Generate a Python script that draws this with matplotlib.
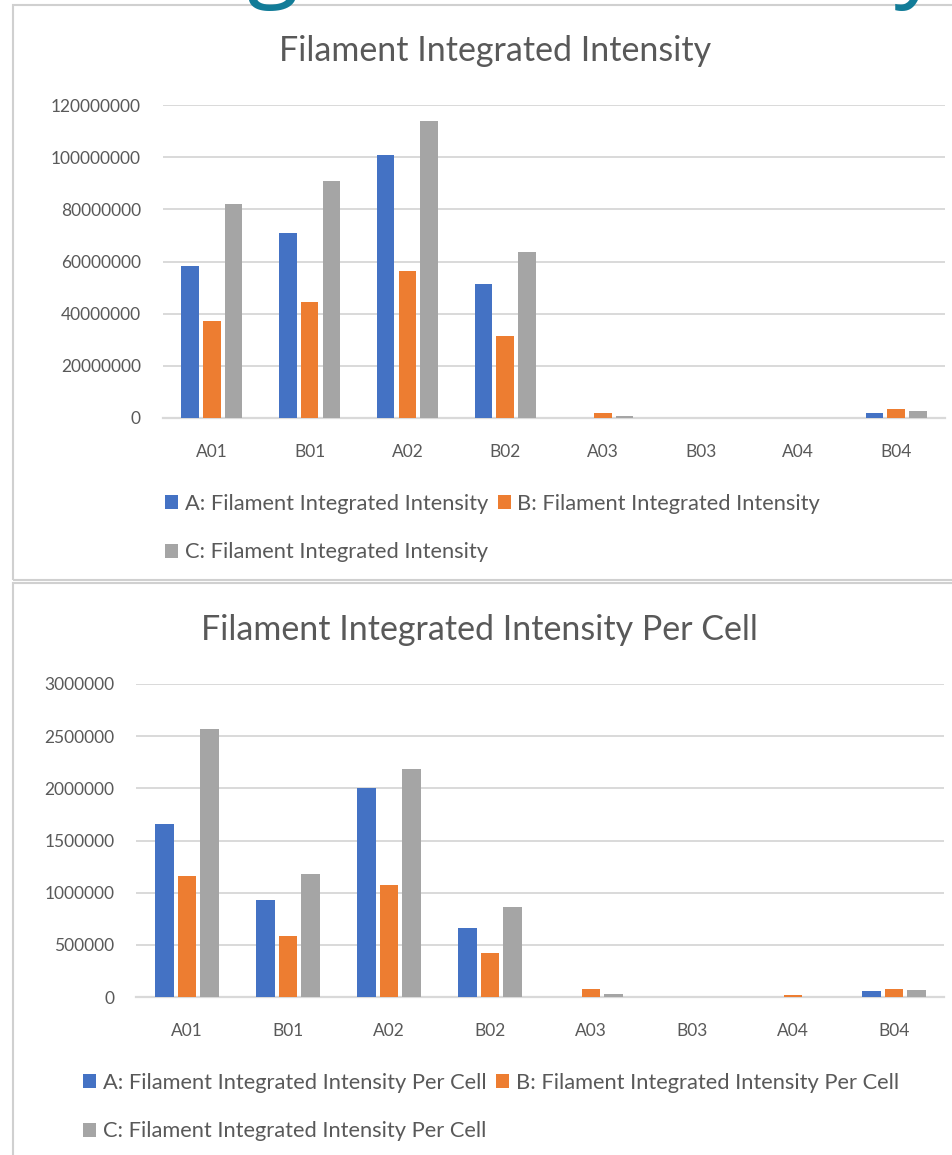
import matplotlib
matplotlib.use("Agg")
import matplotlib.pyplot as plt
from matplotlib.patches import Rectangle
from matplotlib.ticker import FuncFormatter, MultipleLocator
import numpy as np

plt.rcParams['font.family'] = ['Lato', 'DejaVu Sans']

wells = ["A01", "B01", "A02", "B02", "A03", "B03", "A04", "B04"]

# Filament integrated intensity per well
total_a = [58300000, 71000000, 100800000, 51300000, 0, 0, 0, 2100000]
total_b = [37100000, 44400000, 56200000, 31600000, 2100000, 0, 0, 3600000]
total_c = [82000000, 90800000, 113800000, 63500000, 700000, 0, 0, 2700000]

# Filament integrated intensity per cell
cell_a = [1661000, 926000, 2006000, 665000, 0, 0, 0, 55000]
cell_b = [1159000, 581000, 1073000, 421000, 77000, 0, 19000, 77000]
cell_c = [2571000, 1182000, 2188000, 862000, 29000, 0, 0, 67000]

total_labels = ["A: Filament Integrated Intensity",
                "B: Filament Integrated Intensity",
                "C: Filament Integrated Intensity"]
cell_labels = ["A: Filament Integrated Intensity Per Cell",
               "B: Filament Integrated Intensity Per Cell",
               "C: Filament Integrated Intensity Per Cell"]

colors = ["#4472C4", "#ED7D31", "#A5A5A5"]
text_color = "#595959"
grid_color = "#D9D9D9"

W, H = 953, 1155
fig = plt.figure(figsize=(W / 100, H / 100), dpi=100)
fig.patch.set_facecolor("white")


def fx(px):
    return px / W


def fy(py):
    return 1 - py / H


# chart frames
for top, bottom in [(5, 580), (583, 1162)]:
    fig.add_artist(Rectangle((fx(13), fy(bottom)), fx(960) - fx(13), fy(top) - fy(bottom),
                             transform=fig.transFigure, fill=False,
                             edgecolor="#D0D0D0", linewidth=1.5, zorder=0))

# heading running off the top edge
fig.text(fx(942), fy(-12), "Integrated Intensity", ha="right", va="baseline",
         fontsize=68.5, color="#127C98", zorder=5, family=["Open Sans", "DejaVu Sans"])


def draw_chart(rect, series, labels, ymax, ystep, title, title_xy, legend_xy):
    ax = fig.add_axes(rect)
    x = np.arange(len(wells))
    stride = 0.222
    handles = []
    for i, (vals, lab, col) in enumerate(zip(series, labels, colors)):
        h = ax.bar(x + (i - 1) * stride, vals, width=0.18, color=col, label=lab, zorder=3)
        handles.append(h)
    ax.set_xlim(-0.5, len(wells) - 0.5)
    ax.set_ylim(0, ymax)
    ax.yaxis.set_major_locator(MultipleLocator(ystep))
    ax.yaxis.set_major_formatter(FuncFormatter(lambda v, p: f"{int(round(v))}"))
    ax.set_xticks(x)
    ax.set_xticklabels(wells)
    ax.yaxis.grid(True, color=grid_color, linewidth=1.4, zorder=0)
    ax.set_axisbelow(True)
    for s in ["top", "right", "left"]:
        ax.spines[s].set_visible(False)
    ax.spines["bottom"].set_color(grid_color)
    ax.spines["bottom"].set_linewidth(1.6)
    ax.tick_params(axis="both", length=0, labelsize=12.5, colors=text_color)
    ax.tick_params(axis="y", pad=16)
    ax.tick_params(axis="x", pad=19)
    fig.text(fx(title_xy[0]), fy(title_xy[1]), title, ha="center", va="center",
             fontsize=24.5, color=text_color)
    leg = fig.legend([handles[0], handles[2], handles[1]],
                     [labels[0], labels[2], labels[1]],
                     ncol=2, loc="upper left",
                     bbox_to_anchor=(fx(legend_xy[0]), fy(legend_xy[1])),
                     frameon=False, fontsize=15.75, handlelength=0.6, handleheight=0.6,
                     handletextpad=0.3, columnspacing=0.45, labelspacing=1.3,
                     borderaxespad=0, borderpad=0)
    for t in leg.get_texts():
        t.set_color(text_color)
    return ax


draw_chart([fx(163), fy(418), fx(945) - fx(163), fy(105) - fy(418)],
           [total_a, total_b, total_c], total_labels, 120000000, 20000000,
           "Filament Integrated Intensity", (495, 51), (165, 494))

draw_chart([fx(136.5), fy(997), fx(944.5) - fx(136.5), fy(684) - fy(997)],
           [cell_a, cell_b, cell_c], cell_labels, 3000000, 500000,
           "Filament Integrated Intensity Per Cell", (479, 630), (83, 1073))

fig.savefig("out.png", dpi=100, facecolor="white")
